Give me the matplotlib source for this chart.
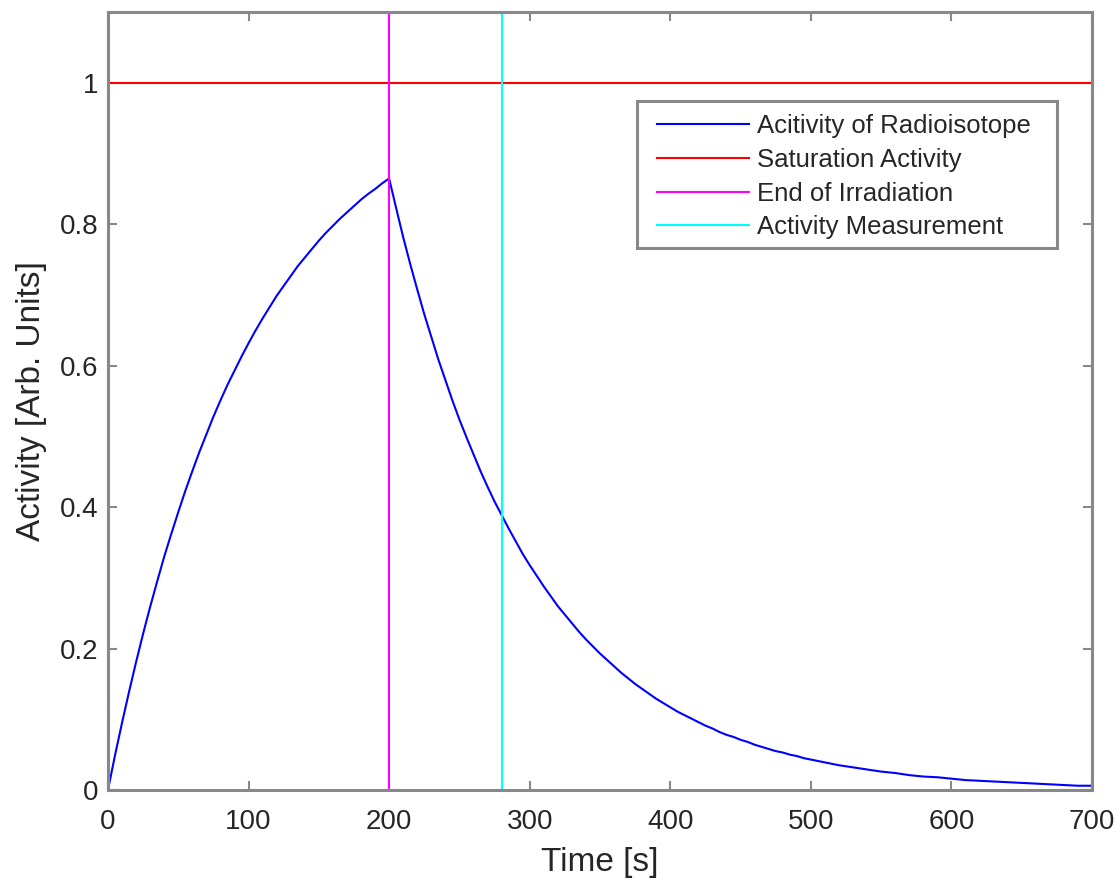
import matplotlib
matplotlib.use("Agg")
import matplotlib.pyplot as plt
from matplotlib.patches import Rectangle

plt.rcParams['font.family'] = ['Liberation Sans', 'DejaVu Sans']

# Sample times: every 5 s up to 500 s, then every 10 s
time_s = list(range(0, 500, 5)) + list(range(500, 701, 10))
activity = [
    # build-up during irradiation (0-195 s)
    0.000, 0.049, 0.095, 0.139, 0.181, 0.221, 0.259, 0.295, 0.330, 0.362,
    0.393, 0.423, 0.451, 0.478, 0.503, 0.528, 0.551, 0.573, 0.593, 0.613,
    0.632, 0.650, 0.667, 0.683, 0.699, 0.713, 0.727, 0.741, 0.753, 0.765,
    0.777, 0.788, 0.798, 0.808, 0.817, 0.826, 0.835, 0.843, 0.850, 0.858,
    # decay after end of irradiation (200-495 s)
    0.865, 0.823, 0.782, 0.744, 0.708, 0.673, 0.641, 0.609, 0.580, 0.551,
    0.524, 0.499, 0.475, 0.451, 0.429, 0.408, 0.389, 0.370, 0.352, 0.334,
    0.318, 0.303, 0.288, 0.274, 0.260, 0.248, 0.236, 0.224, 0.213, 0.203,
    0.193, 0.184, 0.175, 0.166, 0.158, 0.150, 0.143, 0.136, 0.129, 0.123,
    0.117, 0.111, 0.106, 0.101, 0.096, 0.091, 0.087, 0.082, 0.078, 0.075,
    0.071, 0.068, 0.064, 0.061, 0.058, 0.055, 0.053, 0.050, 0.048, 0.045,
    # tail (500-700 s)
    0.043, 0.039, 0.035, 0.032, 0.029, 0.026, 0.024, 0.021, 0.019, 0.018,
    0.016, 0.014, 0.013, 0.012, 0.011, 0.010, 0.009, 0.008, 0.007, 0.006,
    0.006,
]
saturation_activity = 1.0
end_of_irradiation = 200
measurement_time = 280

legend_labels = ["Acitivity of Radioisotope", "Saturation Activity",
                 "End of Irradiation", "Activity Measurement"]
x_ticks = [0, 100, 200, 300, 400, 500, 600, 700]
y_ticks = [0, 0.2, 0.4, 0.6, 0.8, 1.0]
y_tick_labels = ["0", "0.2", "0.4", "0.6", "0.8", "1"]

text_color = '#262626'
box_color = '#888888'

fig = plt.figure(figsize=(11.2, 8.8), dpi=100)
ax = fig.add_axes([0.0964, 0.1023, 0.8786, 0.8837])

ax.plot(time_s, activity, color='#0000ff', lw=1.5, label=legend_labels[0])
ax.axhline(saturation_activity, color='#ff0000', lw=1.5, label=legend_labels[1])
ax.axvline(end_of_irradiation, color='#ff00ff', lw=1.5, label=legend_labels[2])
ax.axvline(measurement_time, color='#00ffff', lw=1.5, label=legend_labels[3])

ax.set_xlim(0, 700)
ax.set_ylim(0, 1.1)
ax.set_xticks(x_ticks)
ax.set_yticks(y_ticks)
ax.set_yticklabels(y_tick_labels)

ax.tick_params(direction='in', length=6.5, width=1.5, color=box_color,
               labelcolor=text_color, labelsize=20, top=True, right=True)
ax.tick_params(axis='x', pad=14)
ax.tick_params(axis='y', pad=7)
for spine in ax.spines.values():
    spine.set_color(box_color)
    spine.set_linewidth(2.2)

ax.set_xlabel("Time [s]", fontsize=24, color=text_color, labelpad=8)
ax.set_ylabel("Activity [Arb. Units]", fontsize=24, color=text_color, labelpad=9)

# Legend frame drawn as its own box, wider on the right than the entries
legend_frame = Rectangle((0.5376, 0.6967), 0.4268, 0.1889,
                         transform=ax.transAxes, facecolor='white',
                         edgecolor=box_color, lw=2.2, zorder=4.5)
ax.add_patch(legend_frame)

leg = ax.legend(loc='upper left', bbox_to_anchor=(0.5468, 0.883),
                fontsize=18.5, handlelength=3.6, handletextpad=0.3,
                labelspacing=0.38, borderpad=0.42, frameon=False,
                borderaxespad=0)
leg.set_zorder(5)
for t in leg.get_texts():
    t.set_color(text_color)

fig.savefig("out.png", dpi=100)
